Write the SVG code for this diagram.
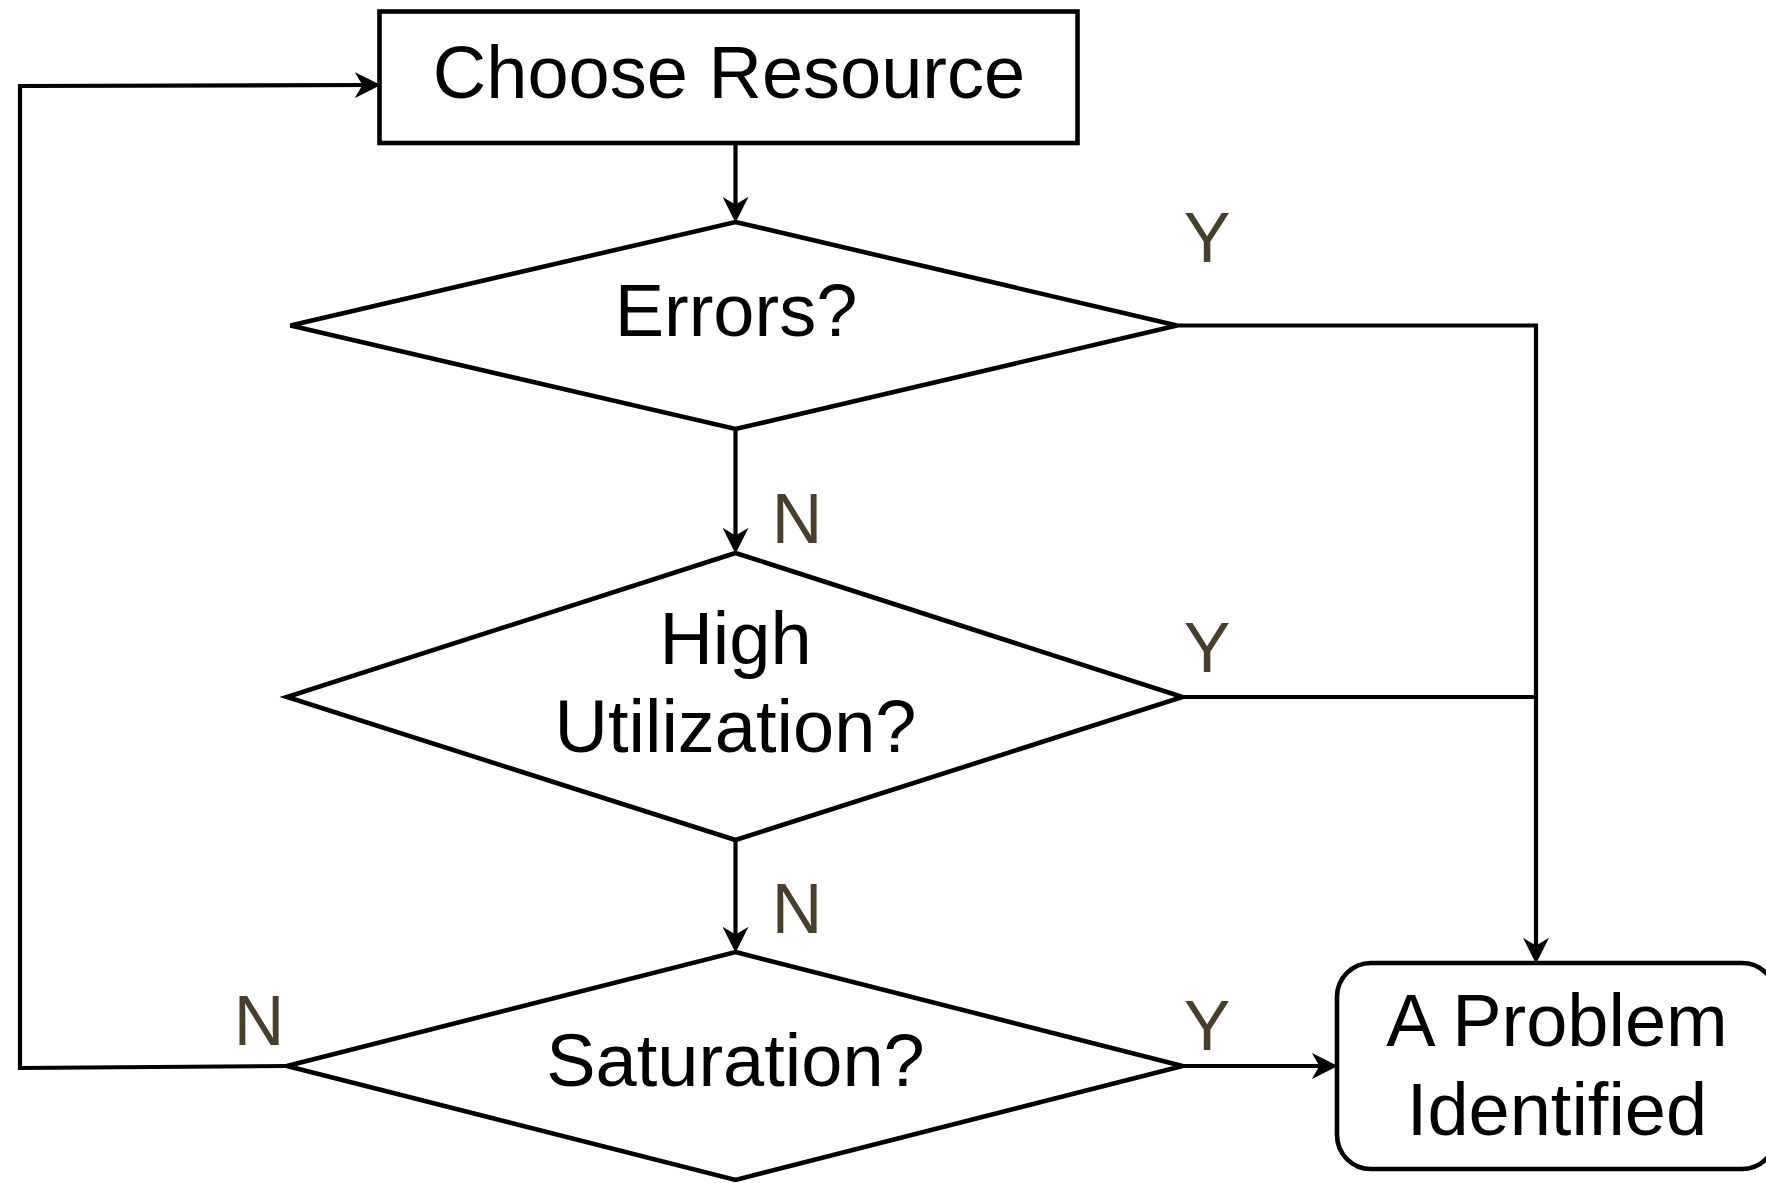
<svg xmlns="http://www.w3.org/2000/svg" width="1766" height="1183" viewBox="0 0 1766 1183">
  <style>
    .shape { fill: #ffffff; stroke: #000000; stroke-width: 4.6; stroke-linejoin: miter; }
    .edge { fill: none; stroke: #000000; stroke-width: 4.2; }
    .txt { font-family: "Liberation Sans", Arial, Helvetica, sans-serif; font-size: 74px; fill: #000000; text-anchor: middle; }
    .lbl { font-family: "Liberation Sans", Arial, Helvetica, sans-serif; font-size: 70px; fill: #473f2c; text-anchor: middle; }
  </style>
  <defs>
    <marker id="arrow" markerUnits="userSpaceOnUse" markerWidth="26" markerHeight="26" viewBox="0 0 24 24" refX="14" refY="12" orient="auto">
      <path d="M0,0 L24,12 L0,24 L7,12 Z" fill="#000000"/>
    </marker>
  </defs>
  <rect width="1766" height="1183" fill="#ffffff"/>

  <!-- connectors with their Y/N branch labels -->
  <g id="connectors">
    <path class="edge" d="M735.5,143 V212" marker-end="url(#arrow)"/>
    <path class="edge" d="M735.5,429 V543" marker-end="url(#arrow)"/>
    <path class="edge" d="M735.5,840 V942" marker-end="url(#arrow)"/>
    <path class="edge" d="M1177,325.5 H1536 V953" marker-end="url(#arrow)"/>
    <path class="edge" d="M1182.5,697 H1536"/>
    <path class="edge" d="M1182.5,1066 H1327" marker-end="url(#arrow)"/>
    <path class="edge" d="M287,1066 L20,1068 V86 L370,85" marker-end="url(#arrow)" stroke-width="4.8"/>
    <text class="lbl" x="1207" y="262">Y</text>
    <text class="lbl" x="797" y="543">N</text>
    <text class="lbl" x="1207" y="672">Y</text>
    <text class="lbl" x="797" y="933">N</text>
    <text class="lbl" x="259" y="1045">N</text>
    <text class="lbl" x="1207" y="1050">Y</text>
  </g>

  <g id="choose-resource">
    <rect class="shape" x="379.5" y="11.5" width="698" height="131.5"/>
    <text class="txt" x="729" y="98" font-size="75">Choose Resource</text>
  </g>

  <g id="errors">
    <polygon class="shape" points="735.5,222 1177,325.5 735.5,429 290.5,325.5"/>
    <text class="txt" x="736" y="336">Errors?</text>
  </g>

  <g id="high-utilization">
    <polygon class="shape" points="735.5,553 1182.5,697 735.5,840 287,697"/>
    <text class="txt" x="735.5" y="664">High</text>
    <text class="txt" x="735.5" y="752">Utilization?</text>
  </g>

  <g id="saturation">
    <polygon class="shape" points="735.5,952 1182.5,1066 735.5,1180 287,1066"/>
    <text class="txt" x="735.5" y="1086">Saturation?</text>
  </g>

  <g id="problem-identified">
    <rect class="shape" x="1337" y="963" width="439" height="206" rx="34" ry="34"/>
    <text class="txt" x="1557" y="1046">A Problem</text>
    <text class="txt" x="1557" y="1135">Identified</text>
  </g>
</svg>
